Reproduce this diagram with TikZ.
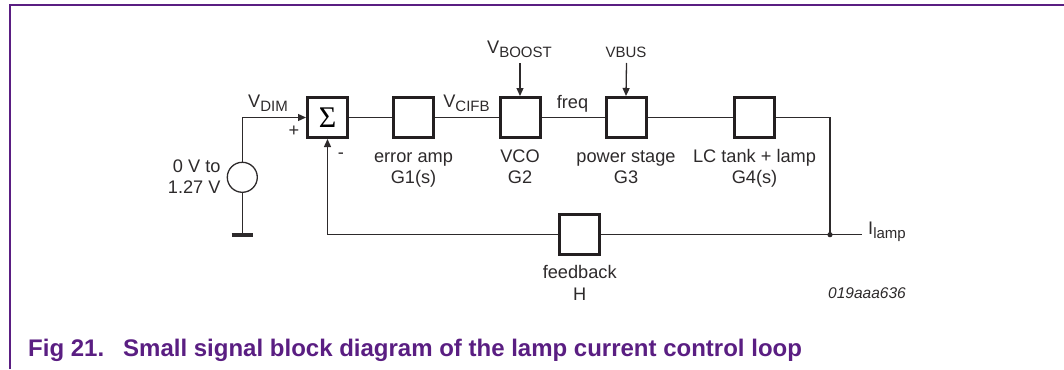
\documentclass[tikz,border=0pt]{standalone}
\usepackage{fontspec}
\setmainfont{Liberation Sans}
\newfontfamily\serifsig{Liberation Serif}
\usetikzlibrary{arrows.meta}
\definecolor{nxppurple}{RGB}{90,30,130}
\definecolor{boxline}{RGB}{35,31,32}
\definecolor{wire}{RGB}{45,42,43}
\newcommand{\lowtxt}[1]{\raisebox{-4pt}{\fontsize{15}{15}\selectfont #1}}
\tikzset{
  x=1pt, y=-1pt,
  blk/.style={draw=boxline, line width=3pt, minimum width=40pt, minimum height=40pt, inner sep=0pt, fill=white},
  wireline/.style={draw=wire, line width=1.3pt},
  arr/.style={wireline, -{Triangle[length=8pt,width=7pt]}},
  lbl/.style={anchor=base, inner sep=0pt, text=wire, font=\fontsize{18.2}{21}\selectfont},
  caption/.style={anchor=base west, inner sep=0pt, text=nxppurple, font=\fontsize{24}{26}\selectfont\bfseries},
}
\begin{document}
\begin{tikzpicture}
\useasboundingbox (0,0) rectangle (1064,369);
% frame
\draw[nxppurple, line width=1.3pt] (10,369) -- (10,5) -- (1064,5);
% blocks
\node[blk] (sum) at (327.5,117.5) {\serifsig\fontsize{30}{30}\selectfont Σ};
\node[blk] (g1) at (413.5,117.5) {};
\node[blk] (g2) at (520,117.5) {};
\node[blk] (g3) at (626,117.5) {};
\node[blk] (g4) at (754.5,117.5) {};
\node[blk] (fb) at (579.7,234.7) {};
% source
\node[draw=wire, line width=1.3pt, circle, minimum size=30pt, inner sep=0pt] (src) at (242.3,177.3) {};
\coordinate (top) at (242.3,117.5);
\coordinate (gnd) at (242.3,235);
\coordinate (gl) at (231.5,235);
\coordinate (gr) at (253,235);
\draw[wire, line width=3.2pt] (gl) -- (gr);
\draw[wireline] (gnd) -- (src.south);
\draw[arr] (src.north) -- (top) -- (sum.west);
% forward path
\draw[wireline] (sum.east) -- (g1.west);
\draw[wireline] (g1.east) -- (g2.west);
\draw[wireline] (g2.east) -- (g3.west);
\draw[wireline] (g3.east) -- (g4.west);
\coordinate (rc) at (830,117.5);
\coordinate (tap) at (830,234.7);
\coordinate (out) at (862,234.7);
\coordinate (fbl) at (327.5,234.7);
\draw[wireline] (g4.east) -- (rc) -- (tap);
\draw[wireline] (tap) -- (out);
\draw[wireline] (tap) -- (fb.east);
\draw[arr] (fb.west) -- (fbl) -- (sum.south);
\fill[wire] (tap) circle (2.6pt);
% top inputs
\coordinate (boostin) at (520,63);
\coordinate (vbusin) at (626.5,63);
\draw[arr] (boostin) -- (g2.north);
\draw[arr] (vbusin) -- (g3.north);
% labels
\node[lbl] (vdim) at (268,107.5) {V\lowtxt{DIM}};
\node[lbl] (plus) at (294,136) {+};
\node[lbl] (minus) at (341,158) {-};
\node[lbl, anchor=base east] (src1) at (220.7,172) {0 V to};
\node[lbl, anchor=base east] (src2) at (220.7,193) {1.27 V};
\node[lbl] (g1a) at (413.5,162) {error amp};
\node[lbl] (g1b) at (413.5,183) {G1(s)};
\node[lbl] (g2a) at (520,162) {VCO};
\node[lbl] (g2b) at (520,183) {G2};
\node[lbl] (g3a) at (626,162) {power stage};
\node[lbl] (g3b) at (626,183) {G3};
\node[lbl] (g4a) at (754.5,162) {LC tank + lamp};
\node[lbl] (g4b) at (754.5,183) {G4(s)};
\node[lbl] (fba) at (579.7,278) {feedback};
\node[lbl] (fbb) at (579.7,300) {H};
\node[lbl] (vcifb) at (466.5,107.5) {V\lowtxt{CIFB}};
\node[lbl] (freq) at (572.5,108) {freq};
\node[lbl] (vboost) at (519.5,53) {V\lowtxt{BOOST}};
\node[lbl, font=\fontsize{15}{15}\selectfont] (vbus) at (626,57) {VBUS};
\node[lbl, anchor=base west] (ilamp) at (868,234.7) {I\lowtxt{lamp}};
\node[lbl, anchor=base, font=\fontsize{15.5}{16}\selectfont\itshape] (code) at (867,298) {019aaa636};
% caption
\node[caption] (cap1) at (28,356) {Fig 21.};
\node[caption] (cap2) at (123,356) {Small signal block diagram of the lamp current control loop};
\end{tikzpicture}
\end{document}
